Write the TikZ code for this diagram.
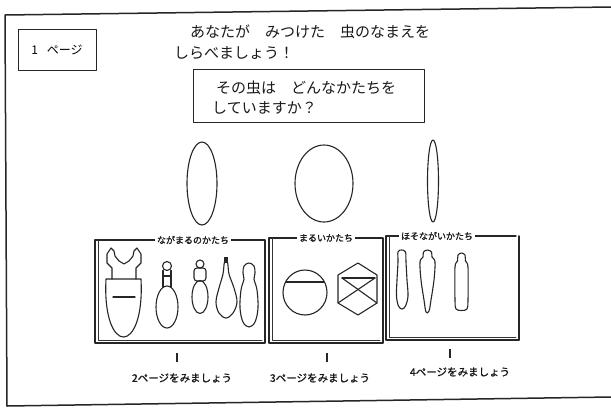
\documentclass[tikz,border=0pt]{standalone}
\usepackage{fontspec}
\usetikzlibrary{shapes.geometric}
\newfontfamily\jp{Noto Sans CJK JP}
\newfontfamily\jpb[FakeBold=1.2]{Noto Sans CJK JP}
\begin{document}
\begin{tikzpicture}[x=1pt,y=-1pt,line join=round,line cap=round,
  ink/.style={draw=black!85,line width=1.1pt},
  thin ink/.style={draw=black!80,line width=0.7pt},
  frame/.style={draw=black!85,line width=1.5pt},
  box/.style={draw=black!85,line width=1.2pt,anchor=north west,inner sep=0pt},
  title/.style={font=\jp\fontsize{15}{18}\selectfont,inner sep=0pt,anchor=west,text=black!90},
  shape outline/.style={ellipse,draw=black!85,line width=1.1pt,inner sep=0pt},
  panelhead/.style={font=\jpb\fontsize{9}{10}\selectfont,fill=white,inner sep=2pt,text=black!90},
  pagelabel/.style={font=\jpb\fontsize{10.5}{12}\selectfont,inner sep=0pt,text=black!90},
  stub/.style={draw=black!85,line width=1.6pt,line cap=butt},
]
\useasboundingbox (0,0) rectangle (611,408);
\fill[white] (0,0) rectangle (611,408);

% outer page frame
\coordinate (ftr) at (611,7);
\coordinate (ftl) at (5,15);
\coordinate (fbl) at (7,406);
\coordinate (fbr) at (611,397);
\draw[frame] (ftr) -- (ftl) -- (fbl) -- (fbr);

% page number box
\node[box,minimum width=78pt,minimum height=41pt] (pagebox) at (18,29) {};
\node[font=\jp\fontsize{12}{13}\selectfont,inner sep=0pt] (pagenum) at (57,50) {1\hspace{9pt}ページ};

% heading
\node[title] (head1) at (190,32) {あなたが　みつけた　虫のなまえを};
\node[title] (head2) at (174,53) {しらべましょう！};

% question box
\node[box,minimum width=231pt,minimum height=53pt] (qbox) at (193,69) {};
\node[title] (q1) at (216,88) {その虫は　どんなかたちを};
\node[title] (q2) at (212,108) {していますか？};

% the three basic outlines
\node[shape outline,minimum width=30pt,minimum height=83pt] (longround) at (202,183.5) {};
\node[shape outline,minimum width=58pt,minimum height=77pt] (round) at (324,183.5) {};
\node[shape outline,minimum width=11pt,minimum height=82pt] (slender) at (433,181) {};

% panels
\draw[ink] (98,240) -- (95,240) -- (95,343) -- (265,343) -- (265,240) -- (98,240);
\draw[thin ink] (98,240) -- (98,340) -- (262,340);
\draw[ink] (272,238) -- (269,238) -- (269,343) -- (383,343) -- (383,238) -- (272,238);
\draw[thin ink] (272,238) -- (272,340) -- (380,340);
\draw[ink] (389,236) -- (386,236) -- (386,340) -- (519,340);
\draw[ink] (389,236) -- (516,236);
\draw[frame] (519,236) -- (519,340);
\draw[thin ink] (389,236) -- (389,337) -- (516,337);

\node[panelhead] (h1) at (193,240) {ながまるのかたち};
\node[panelhead] (h2) at (326,238) {まるいかたち};
\node[panelhead] (h3) at (437,236) {ほそながいかたち};

% --- long-round insects
% stag beetle
\draw[ink] (106,279) .. controls (104,318) and (114,337) .. (123.5,337)
  .. controls (133,337) and (143,318) .. (141,279) -- cycle;
\draw[ink] (113,297) -- (135,297);
\draw[ink] (112,279) -- (112,268) -- (107,263) -- (107,254) -- (111,248) -- (114,251)
  -- (115,256) -- (119,261) -- (124,264) -- (129,261) -- (133,256) -- (134,251)
  -- (137,248) -- (141,254) -- (141,263) -- (136,268) -- (136,279);
% long body with small head
\draw[ink] (167,266) circle[radius=4.5pt];
\draw[ink] (163,270.5) -- (163,287);
\draw[ink] (171,270.5) -- (171,287);
\draw[ink] (163,276) -- (171,276);
\node[shape outline,minimum width=22pt,minimum height=42pt] (longbody) at (167,307) {};
% ant-like
\draw[ink] (200,264) circle[radius=4pt];
\draw[ink,rounded corners=3pt] (194,268) rectangle (206,281);
\node[shape outline,minimum width=16pt,minimum height=33pt] (antbody) at (200,297) {};
% spoon-shaped
\fill[black!85] (224,256.5) rectangle (228,263);
\draw[ink] plot[smooth cycle,tension=0.6] coordinates {(224.5,262) (223,274) (219,288) (216,302)
  (219,313) (226,318) (233,313) (237,302) (234,288) (229,274) (227.5,262)};
% peanut-shaped
\draw[ink] plot[smooth cycle,tension=0.6] coordinates {(249,263) (254,266) (255,273) (254,279)
  (257,290) (258,308) (255,322) (249,327) (243,322) (240,308) (241,290) (244,279) (243,273) (244,266)};

% --- round insects
\node[shape outline,minimum width=44pt,minimum height=45pt] (ladybird) at (305,292.5) {};
\draw[ink] (286,282) -- (324,282);
\draw[ink] (358,263) -- (377,275) -- (377,303) -- (358,315) -- (338,303) -- (338,275) -- cycle;
\draw[ink] (342,278) -- (375,278);
\draw[ink] (342,278) -- (377,303);
\draw[ink] (375,278) -- (338,303);

% --- slender insects
\draw[ink] plot[smooth cycle,tension=0.6] coordinates {(401.5,250) (405.5,252) (406,262) (407,280)
  (408,296) (405.5,306) (402,309) (398.5,306) (396.5,296) (397,280) (398,262) (398,252)};
\draw[ink] plot[smooth cycle,tension=0.6] coordinates {(427.5,250) (431.5,252) (432,257) (435,262)
  (434,280) (431,300) (429,311) (426,312) (424,300) (421,280) (420,262) (423,257) (423.5,252)};
\draw[ink] plot[smooth cycle,tension=0.5] coordinates {(461.5,253) (465,255) (465.5,261) (468,267)
  (468,300) (467,309) (461.5,310.5) (456,309) (455,300) (455,267) (457.5,261) (458,255)};

% pointers to the next pages
\node[pagelabel] (goto2) at (182,378) {2ページをみましょう};
\node[pagelabel] (goto3) at (320,378) {3ページをみましょう};
\node[pagelabel] (goto4) at (460,372) {4ページをみましょう};
\coordinate (s2a) at (177,353); \coordinate (s2b) at (177,362);
\coordinate (s3a) at (327,353); \coordinate (s3b) at (327,362);
\coordinate (s4a) at (450,349); \coordinate (s4b) at (450,358);
\draw[stub] (s2a) -- (s2b);
\draw[stub] (s3a) -- (s3b);
\draw[stub] (s4a) -- (s4b);
\end{tikzpicture}
\end{document}
